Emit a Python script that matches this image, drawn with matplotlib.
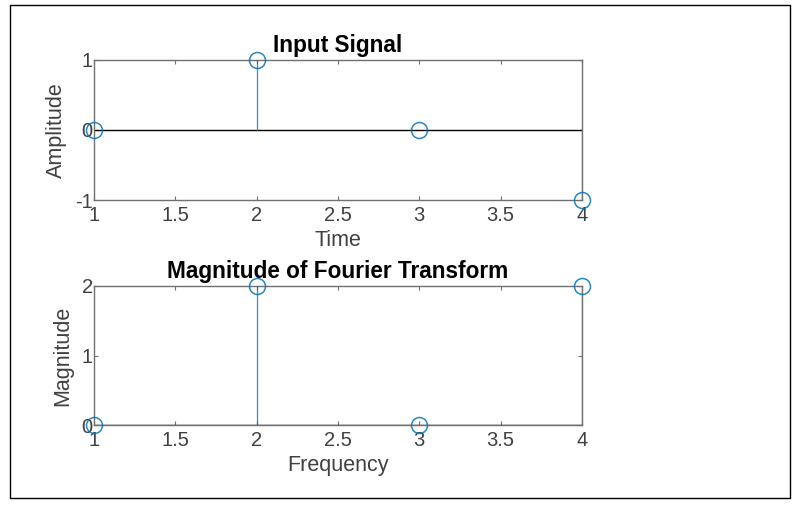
import matplotlib.pyplot as plt
from matplotlib.patches import Rectangle

# data
n = [1, 2, 3, 4]
x_signal = [0, 1, 0, -1]
x_mag = [0, 2, 0, 2]
xticks = [1, 1.5, 2, 2.5, 3, 3.5, 4]
xticklabels = ['1', '1.5', '2', '2.5', '3', '3.5', '4']

plt.rcParams['font.family'] = ['Liberation Sans', 'DejaVu Sans']
plt.rcParams['axes.unicode_minus'] = False

blue = '#0072BD'
axcol = '#707070'
txtcol = '#404040'


def stem_axes(ax, x, y, yticks, ylim, title, xlabel, ylabel):
    ax.set_xlim(1, 4)
    ax.set_ylim(*ylim)
    ax.plot([1, 4], [0, 0], color='black', lw=1.0, zorder=2)
    for xi, yi in zip(x, y):
        ax.plot([xi, xi], [0, yi], color=blue, lw=0.9, alpha=0.8, zorder=3)
    ax.plot(x, y, 'o', mfc='none', mec=blue, ms=11.5, mew=1.1, alpha=0.85,
            clip_on=False, zorder=4)
    ax.set_xticks(xticks)
    ax.set_xticklabels(xticklabels)
    ax.set_yticks(yticks)
    ax.tick_params(direction='in', length=3, width=0.8, colors=axcol,
                   labelcolor=txtcol, labelsize=14.5, top=True, right=True)
    ax.tick_params(axis='x', pad=4)
    ax.tick_params(axis='y', pad=1)
    for s in ax.spines.values():
        s.set_color(axcol)
        s.set_linewidth(1.0)
    ax.set_title(title, fontsize=16.3, fontweight='bold', pad=6)
    ax.set_xlabel(xlabel, fontsize=15.5, color=txtcol, labelpad=4)
    ax.set_ylabel(ylabel, fontsize=15.5, color=txtcol, labelpad=6)


fig = plt.figure(figsize=(7.97, 5.07), dpi=100)
fig.patches.append(Rectangle((10 / 797, 1 - 498 / 507), 780 / 797, 493 / 507,
                             transform=fig.transFigure, fill=False,
                             edgecolor='black', lw=1.0))

ax1 = fig.add_axes([0.118, 0.6055, 0.612, 0.2762])
stem_axes(ax1, n, x_signal, [-1, 0, 1], (-1, 1),
          'Input Signal', 'Time', 'Amplitude')

ax2 = fig.add_axes([0.118, 0.1617, 0.612, 0.2742])
stem_axes(ax2, n, x_mag, [0, 1, 2], (0, 2),
          'Magnitude of Fourier Transform', 'Frequency', 'Magnitude')

fig.savefig('out.png', dpi=100)
